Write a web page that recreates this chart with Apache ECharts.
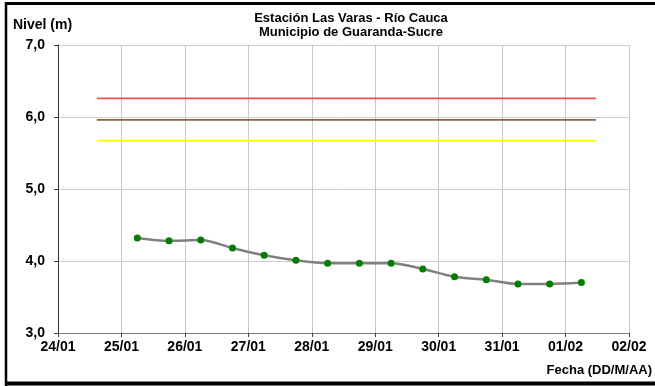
<!DOCTYPE html>
<html>
<head>
<meta charset="utf-8">
<script src="https://cdn.jsdelivr.net/npm/echarts@6/dist/echarts.min.js"></script>
<style>
html,body{margin:0;padding:0;background:#fff;}
#chart{width:655px;height:386px;}
</style>
</head>
<body>
<div id="chart"></div>
<script>
var titleLines = ['Estación Las Varas - Río Cauca', 'Municipio de Guaranda-Sucre'];
var yAxisName = 'Nivel (m)';
var xAxisName = 'Fecha (DD/M/AA)';

var times = [
  '2021-01-25 06:00', '2021-01-25 18:00', '2021-01-26 06:00', '2021-01-26 18:00',
  '2021-01-27 06:00', '2021-01-27 18:00', '2021-01-28 06:00', '2021-01-28 18:00',
  '2021-01-29 06:00', '2021-01-29 18:00', '2021-01-30 06:00', '2021-01-30 18:00',
  '2021-01-31 06:00', '2021-01-31 18:00', '2021-02-01 06:00'
];
var levels = [4.32, 4.28, 4.29, 4.18, 4.08, 4.01, 3.97, 3.97, 3.97, 3.89, 3.78, 3.74, 3.68, 3.68, 3.70];

var thresholdSpan = ['2021-01-24 14:40', '2021-02-01 11:30'];
var thresholdRed = 6.26;
var thresholdBrown = 5.96;
var thresholdYellow = 5.67;

var xMin = '2021-01-24 00:00';
var xMax = '2021-02-02 00:00';
var yMin = 3, yMax = 7, yStep = 1;

function pair(v) { return [[thresholdSpan[0], v], [thresholdSpan[1], v]]; }
function pad(n) { return (n < 10 ? '0' : '') + n; }

var chart = echarts.init(document.getElementById('chart'), null, {renderer: 'canvas'});
var font = 'Liberation Sans, Arial, sans-serif';

chart.setOption({
  animation: false,
  backgroundColor: '#ffffff',
  title: {
    text: titleLines.join('\n'),
    left: 346, top: 6, textAlign: 'center',
    textStyle: {fontFamily: font, fontWeight: 'bold', fontSize: 13, color: '#000', lineHeight: 14}
  },
  grid: {left: 58, right: 26, top: 45, bottom: 53, containLabel: false},
  graphic: [
    {type: 'line', shape: {x1: 6, y1: 3.5, x2: 660, y2: 3.5}, style: {stroke: '#000', lineWidth: 3}},
    {type: 'line', shape: {x1: 6, y1: 2, x2: 6, y2: 386}, style: {stroke: '#000', lineWidth: 2.5}},
    {type: 'line', shape: {x1: 5, y1: 383.5, x2: 660, y2: 383.5}, style: {stroke: '#000', lineWidth: 4}},
    {type: 'text', left: 13, top: 18, style: {text: yAxisName, font: 'bold 14px ' + font, fill: '#000'}},
    {type: 'text', right: 3, top: 364, style: {text: xAxisName, font: 'bold 13px ' + font, fill: '#000'}}
  ],
  xAxis: {
    type: 'time',
    min: xMin,
    max: xMax,
    minInterval: 86400000,
    maxInterval: 86400000,
    splitNumber: 9,
    axisLine: {show: true, lineStyle: {color: '#808080', width: 1}},
    axisTick: {show: true, inside: false, length: 4, lineStyle: {color: '#404040'}},
    axisLabel: {
      show: true, color: '#000', fontFamily: font, fontWeight: 'bold', fontSize: 14, margin: 7,
      showMinLabel: true, showMaxLabel: true, hideOverlap: false,
      formatter: function (v) { var d = new Date(v); return pad(d.getDate()) + '/' + pad(d.getMonth() + 1); }
    },
    splitLine: {show: true, lineStyle: {color: '#c8c8c8', width: 1}}
  },
  yAxis: {
    type: 'value',
    min: yMin, max: yMax, interval: yStep,
    axisLine: {show: true, lineStyle: {color: '#303030', width: 1}},
    axisTick: {show: true, inside: false, length: 4, lineStyle: {color: '#303030'}},
    axisLabel: {
      color: '#000', fontFamily: font, fontWeight: 'bold', fontSize: 14, margin: 13,
      formatter: function (v) { return v.toFixed(1).replace('.', ','); }
    },
    splitLine: {show: true, lineStyle: {color: '#cfcfcf', width: 1}}
  },
  series: [
    {type: 'line', data: pair(thresholdRed), symbol: 'none', lineStyle: {color: '#f24f4f', width: 1.8}, silent: true},
    {type: 'line', data: pair(thresholdBrown), symbol: 'none', lineStyle: {color: '#8c6239', width: 1.6}, silent: true},
    {type: 'line', data: pair(thresholdYellow), symbol: 'none', lineStyle: {color: '#ffff00', width: 2}, silent: true},
    {
      type: 'line',
      data: times.map(function (t, i) { return [t, levels[i]]; }),
      smooth: 0.3,
      symbol: 'circle', symbolSize: 7,
      itemStyle: {color: '#008000', borderWidth: 0},
      lineStyle: {color: '#808080', width: 2.5},
      z: 5
    }
  ]
});
</script>
</body>
</html>
